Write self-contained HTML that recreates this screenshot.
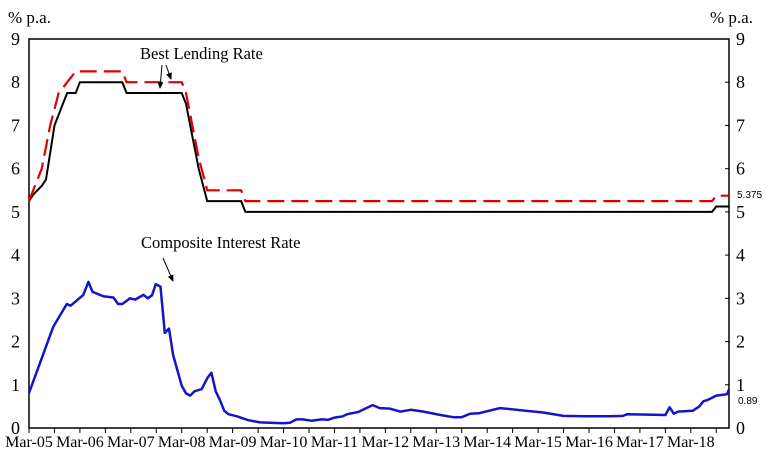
<!DOCTYPE html>
<html><head><meta charset="utf-8"><style>
body{margin:0;background:#fff}
svg{display:block;font-family:"Liberation Serif",serif}
</style></head><body>
<svg id="chart" width="768" height="468" viewBox="0 0 768 468" xmlns="http://www.w3.org/2000/svg">
<defs><marker id="ah" markerWidth="8" markerHeight="8" refX="6" refY="4" orient="auto"><path d="M0,1 L7,4 L0,7 z" fill="#000"/></marker></defs>
<g id="axes"></g><g id="series"></g>
<text x="8" y="23" font-size="17">% p.a.</text>
<text x="710" y="23" font-size="17">% p.a.</text>
<text x="140" y="59" font-size="16.5">Best Lending Rate</text>
<line x1="162" y1="65" x2="160" y2="88" stroke="#000" stroke-width="1" marker-end="url(#ah)"/>
<line x1="166" y1="65" x2="171" y2="79" stroke="#000" stroke-width="1" marker-end="url(#ah)"/>
<text x="141" y="248" font-size="16.5">Composite Interest Rate</text>
<line x1="163" y1="258" x2="173" y2="281" stroke="#000" stroke-width="1" marker-end="url(#ah)"/>
<text x="737" y="198" font-size="10" font-family="Liberation Sans, sans-serif">5.375</text>
<text x="738" y="404" font-size="10" font-family="Liberation Sans, sans-serif">0.89</text>
</svg>
<script>
const yTicks=[0,1,2,3,4,5,6,7,8,9];
const xLabels=["Mar-05","Mar-06","Mar-07","Mar-08","Mar-09","Mar-10","Mar-11","Mar-12","Mar-13","Mar-14","Mar-15","Mar-16","Mar-17","Mar-18"];
const blackMonths=[0,1,3,4,6,8,9,11,12,22,23,36,37,38,40,42,50,51,161,162,165];
const blackVals=[5.25,5.4,5.6,5.75,7.0,7.5,7.75,7.75,8.0,8.0,7.75,7.75,7.5,7.0,6.0,5.25,5.25,5.0,5.0,5.125,5.125];
const redMonths=[0,1,3,5,7,9,11,12,22,23,36,37,38,40,42,50,51,161,162,165];
const redVals=[5.25,5.5,6.0,7.0,7.75,8.0,8.25,8.25,8.25,8.0,8.0,7.75,7.25,6.25,5.5,5.5,5.25,5.25,5.375,5.375];
const compMonths=[0,5.7,8.9,9.8,12.8,14,15,17.5,19.9,21,22,23.8,25,27,28,29,29.9,31,32,33,34,36,37,38,39,40.7,42,43,44,45,46,47,49,51.7,54.5,60,61.5,63,64.5,66.6,69,70.5,72,74,75,77.6,81,82.7,85,87.5,90,93,97,100,102,104,106,111,117,121,126,131,137,140,141,150,151,152,153,156.5,158,159,160,162,164.5,165];
const compVals=[0.81,2.34,2.87,2.83,3.08,3.38,3.15,3.05,3.02,2.87,2.87,3.0,2.97,3.08,3.0,3.07,3.33,3.27,2.2,2.3,1.68,0.98,0.8,0.75,0.85,0.9,1.15,1.28,0.85,0.65,0.4,0.32,0.27,0.18,0.13,0.11,0.12,0.2,0.2,0.17,0.2,0.19,0.24,0.27,0.32,0.37,0.53,0.46,0.45,0.38,0.42,0.38,0.3,0.25,0.25,0.33,0.34,0.46,0.4,0.36,0.28,0.27,0.27,0.28,0.32,0.3,0.48,0.33,0.38,0.4,0.5,0.62,0.65,0.75,0.78,0.89];
const X0=29,X1=729,Y0=428,Y9=39,NM=165;
const xS=m=>X0+m*(X1-X0)/NM, yS=v=>Y0-v*(Y0-Y9)/9;
const NS="http://www.w3.org/2000/svg";
const ax=document.getElementById('axes'), se=document.getElementById('series');
function mk(p,t,a){const e=document.createElementNS(NS,t);for(const k in a)e.setAttribute(k,a[k]);p.appendChild(e);return e;}
const frame=mk(ax,'rect',{x:X0,y:Y9,width:X1-X0,height:Y0-Y9,fill:'none',stroke:'#000','stroke-width':1.5});


yTicks.forEach(v=>{
 const l=mk(ax,'text',{x:20,y:yS(v)+6,'font-size':18,'text-anchor':'end'});l.textContent=v;
 
 
 const r=mk(ax,'text',{x:736,y:yS(v)+6,'font-size':18});r.textContent=v;
 
 
 const t=mk(ax,'line',{x1:X1,x2:X1-4,y1:yS(v),y2:yS(v),stroke:'#000'});
 
 
});
for(let m=0;m<=NM;m+=6){
 const t=mk(ax,'line',{x1:xS(m),x2:xS(m),y1:Y0,y2:Y0+5,stroke:'#000'});
 
 
}
xLabels.forEach((s,i)=>{
 const l=mk(ax,'text',{x:xS(i*12),y:447,'font-size':16,'text-anchor':'middle'});l.textContent=s;
 
 
});
function pts(ms,vs){return ms.map((m,i)=>xS(m).toFixed(1)+','+yS(vs[i]).toFixed(1)).join(' ');}
const bl=mk(se,'polyline',{points:pts(blackMonths,blackVals),fill:'none',stroke:'#000','stroke-width':2});


const rl=mk(se,'polyline',{points:pts(redMonths,redVals),fill:'none',stroke:'#e00000','stroke-width':2.2,'stroke-dasharray':'17,7'});


const cl=mk(se,'polyline',{points:pts(compMonths,compVals),fill:'none',stroke:'#1414c8','stroke-width':2.5,'stroke-linejoin':'round'});


</script>
</body></html>
